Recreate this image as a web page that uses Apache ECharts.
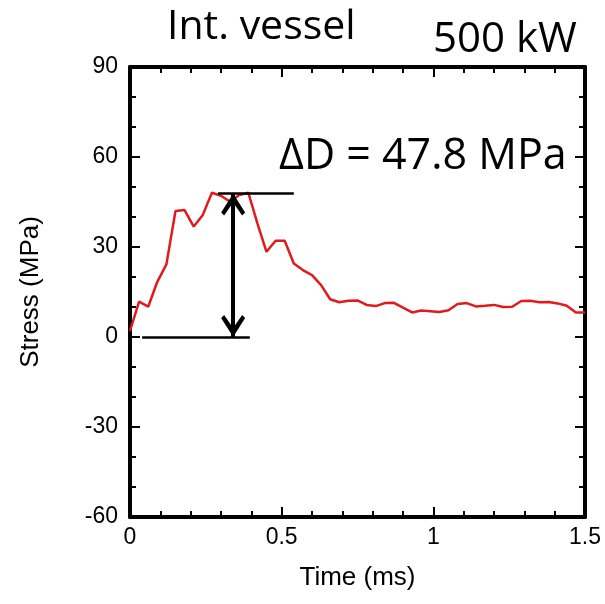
<!DOCTYPE html>
<html>
<head>
    <meta charset="UTF-8">
    <title>Int. vessel stress</title>
    <script src="https://cdn.jsdelivr.net/npm/echarts@6/dist/echarts.min.js"></script>
    <style>
        html, body { margin: 0; padding: 0; background: #fff; }
        #main { width: 605px; height: 604px; }
    </style>
</head>
<body>
    <div id="main"></div>
    <script type="text/javascript">
        // time (ms), sampled roughly every 0.03 ms
        const times = [
            0, 0.03, 0.06, 0.09, 0.12, 0.15, 0.18, 0.21, 0.24, 0.27,
            0.30, 0.33, 0.36, 0.39, 0.42, 0.45, 0.48, 0.51, 0.54, 0.57,
            0.60, 0.63, 0.66, 0.69, 0.72, 0.75, 0.78, 0.81, 0.84, 0.87,
            0.90, 0.93, 0.96, 0.99, 1.02, 1.05, 1.08, 1.11, 1.14, 1.17,
            1.20, 1.23, 1.26, 1.29, 1.32, 1.35, 1.38, 1.41, 1.44, 1.47, 1.50
        ];
        // stress (MPa)
        const stress = [
            2, 11.8, 10.1, 18.4, 24.2, 42, 42.3, 36.8, 40.7, 48.1,
            47.1, 45.1, 47.3, 48.1, 37.9, 28.4, 32.1, 32.1, 24.5, 22.3,
            20.6, 17.3, 12.6, 11.6, 12.1, 12.2, 10.7, 10.3, 11.3, 11.4,
            9.8, 8.2, 8.8, 8.6, 8.3, 8.9, 11, 11.3, 10.2, 10.4,
            10.7, 10, 10.1, 12, 12.1, 11.6, 11.7, 11.2, 10.4, 8.2, 8.2
        ];
        // peak-to-base annotation
        const deltaD = 47.8;
        const arrowTime = 0.34;
        const peakLine = [0.29, 0.54];
        const baseLine = [0.04, 0.395];

        const chart = echarts.init(document.getElementById('main'));

        const tickFont = { fontFamily: 'Liberation Sans', fontSize: 23, color: '#000' };
        const nameFont = { fontFamily: 'Liberation Sans', fontSize: 26, color: '#000' };
        const bigFont = { fontFamily: 'Open Sans', fontWeight: 'normal', color: '#000' };
        const axisLine = { show: true, onZero: false, lineStyle: { color: '#000', width: 4 } };
        const majorTick = { inside: true, length: 10, lineStyle: { color: '#000', width: 2 } };
        // open V head; the empty point above keeps the tip at the symbol centre
        const chevron = 'path://M12,-22 L12.01,-22 Z M12,0 L24,19 L21,22 L12,9 L3,22 L0,19 Z';

        const option = {
            animation: false,
            title: [
                { text: 'Int. vessel', left: 162, top: 2, textStyle: Object.assign({ fontSize: 41 }, bigFont) },
                { text: '500 kW', left: 428, top: 14, textStyle: Object.assign({ fontSize: 42 }, bigFont) },
                { text: 'ΔD = 47.8 MPa', left: 274, top: 130, textStyle: Object.assign({ fontSize: 43 }, bigFont) }
            ],
            grid: { left: 130, right: 20, top: 67, bottom: 87 },
            xAxis: [
                {
                    type: 'value', min: 0, max: 1.5, interval: 0.5,
                    name: 'Time (ms)', nameLocation: 'middle', nameGap: 48,
                    nameTextStyle: nameFont,
                    axisLine: axisLine,
                    axisTick: majorTick,
                    minorTick: { show: true, splitNumber: 5, length: 6, lineStyle: { color: '#000', width: 2 } },
                    axisLabel: Object.assign({ margin: 9 }, tickFont),
                    splitLine: { show: false }
                },
                {
                    type: 'value', min: 0, max: 1.5, interval: 0.5, position: 'top',
                    axisLine: axisLine,
                    axisTick: majorTick,
                    minorTick: { show: true, splitNumber: 5, length: 6, lineStyle: { color: '#000', width: 2 } },
                    axisLabel: { show: false },
                    splitLine: { show: false }
                }
            ],
            yAxis: [
                {
                    type: 'value', min: -60, max: 90, interval: 30,
                    name: 'Stress (MPa)', nameLocation: 'middle', nameGap: 86,
                    nameTextStyle: nameFont,
                    axisLine: axisLine,
                    axisTick: majorTick,
                    minorTick: { show: true, splitNumber: 3, length: 6, lineStyle: { color: '#000', width: 2 } },
                    axisLabel: Object.assign({ margin: 12 }, tickFont),
                    splitLine: { show: false }
                },
                {
                    type: 'value', min: -60, max: 90, interval: 30, position: 'right',
                    axisLine: axisLine,
                    axisTick: majorTick,
                    minorTick: { show: true, splitNumber: 3, length: 6, lineStyle: { color: '#000', width: 2 } },
                    axisLabel: { show: false },
                    splitLine: { show: false }
                }
            ],
            series: [
                {
                    type: 'line',
                    data: times.map((t, i) => [t, stress[i]]),
                    showSymbol: false,
                    lineStyle: { color: '#e31a1c', width: 2.5 },
                    itemStyle: { color: '#e31a1c' },
                    z: 3,
                    markLine: {
                        silent: true,
                        animation: false,
                        label: { show: false },
                        data: [
                            [
                                { coord: [peakLine[0], deltaD], symbol: 'none', lineStyle: { color: '#000', width: 2.5, type: 'solid' } },
                                { coord: [peakLine[1], deltaD], symbol: 'none' }
                            ],
                            [
                                { coord: [baseLine[0], 0], symbol: 'none', lineStyle: { color: '#000', width: 2.5, type: 'solid' } },
                                { coord: [baseLine[1], 0], symbol: 'none' }
                            ],
                            [
                                { coord: [arrowTime, 0], symbol: chevron, symbolSize: [24, 44], lineStyle: { color: '#000', width: 4, type: 'solid' }, itemStyle: { color: '#000' } },
                                { coord: [arrowTime, deltaD], symbol: chevron, symbolSize: [24, 44] }
                            ]
                        ]
                    }
                }
            ]
        };

        chart.setOption(option);
    </script>
</body>
</html>
